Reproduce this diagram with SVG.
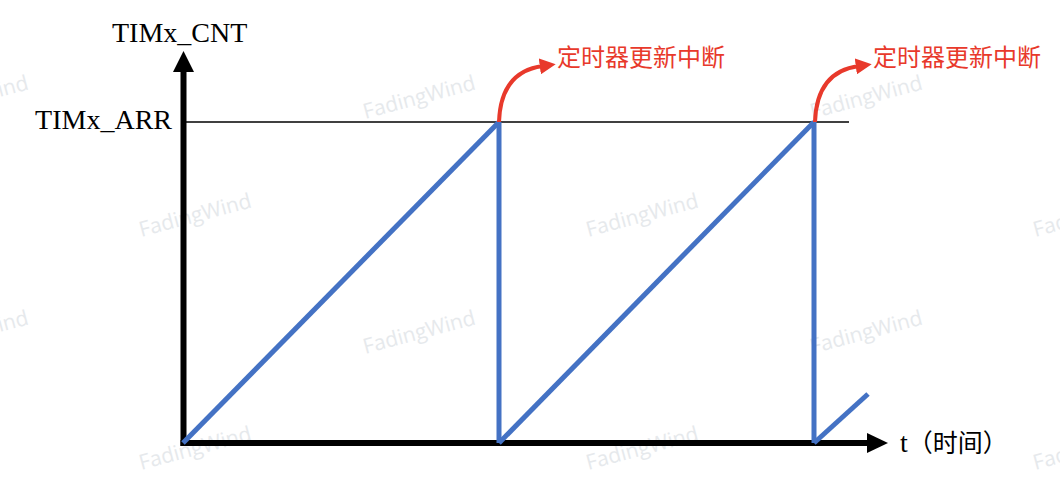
<svg xmlns="http://www.w3.org/2000/svg" width="1060" height="480" viewBox="0 0 1060 480">
  <style>
    .wm { font-family: "Open Sans", "Noto Sans", sans-serif; font-size: 21px; fill: #e6e9ec; text-anchor: middle; }
    .serif { font-family: "Liberation Serif", "Noto Sans CJK SC", serif; font-size: 28px; fill: #000; }
    .cjk { font-family: "Noto Sans CJK SC", "Liberation Sans", sans-serif; font-size: 24px; }
    .red { fill: #e8392b; }
    .axis { stroke: #000; stroke-width: 6; fill: none; }
    .saw { stroke: #4472c4; stroke-width: 5; fill: none; stroke-linecap: butt; }
    .irq { stroke: #e8392b; stroke-width: 4; fill: none; }
  </style>
  <defs>
    <marker id="redhead" viewBox="0 0 10 10" refX="2" refY="5" markerWidth="4" markerHeight="4" markerUnits="strokeWidth" orient="auto">
      <path d="M0,0 L10,5 L0,10 Z" fill="#e8392b"/>
    </marker>
  </defs>
  <rect width="1060" height="480" fill="#fff"/>

  <g id="watermark">
    <text class="wm" transform="translate(-26,104) rotate(-15)">FadingWind</text>
    <text class="wm" transform="translate(421,104) rotate(-15)">FadingWind</text>
    <text class="wm" transform="translate(868,104) rotate(-15)">FadingWind</text>
    <text class="wm" transform="translate(197,222) rotate(-15)">FadingWind</text>
    <text class="wm" transform="translate(644,222) rotate(-15)">FadingWind</text>
    <text class="wm" transform="translate(1091,222) rotate(-15)">FadingWind</text>
    <text class="wm" transform="translate(-26,339) rotate(-15)">FadingWind</text>
    <text class="wm" transform="translate(421,339) rotate(-15)">FadingWind</text>
    <text class="wm" transform="translate(868,339) rotate(-15)">FadingWind</text>
    <text class="wm" transform="translate(197,455) rotate(-15)">FadingWind</text>
    <text class="wm" transform="translate(644,455) rotate(-15)">FadingWind</text>
    <text class="wm" transform="translate(1091,455) rotate(-15)">FadingWind</text>
  </g>

  <g id="arr-line">
    <line x1="183" y1="122" x2="849" y2="122" stroke="#000" stroke-width="1.5"/>
  </g>

  <g id="y-axis">
    <line class="axis" x1="183.5" y1="446" x2="183.5" y2="70"/>
    <polygon points="183.5,51 173,72 194,72" fill="#000"/>
  </g>
  <g id="x-axis">
    <line class="axis" x1="180.5" y1="443" x2="869" y2="443"/>
    <polygon points="888,443 867,433 867,453" fill="#000"/>
  </g>

  <g id="connectors">
    <g id="counter">
      <line class="saw" x1="183" y1="443" x2="499" y2="122"/>
      <line class="saw" x1="499" y1="122" x2="499" y2="443"/>
      <line class="saw" x1="499" y1="443" x2="814" y2="122"/>
      <line class="saw" x1="814" y1="122" x2="814" y2="443"/>
      <line class="saw" x1="814" y1="443" x2="868" y2="394"/>
    </g>
    <path id="irq1" class="irq" d="M499,122 C500,92 512,70 543,66" marker-end="url(#redhead)"/>
    <path id="irq2" class="irq" d="M815,122 C816,92 828,70 859,66" marker-end="url(#redhead)"/>
  </g>

  <g id="labels">
    <text id="lbl-cnt" class="serif" x="112" y="42">TIMx_CNT</text>
    <text id="lbl-arr" class="serif" x="172" y="129" text-anchor="end">TIMx_ARR</text>
    <text id="lbl-t" class="serif" x="900" y="452">t<tspan font-family="Noto Sans CJK SC, sans-serif" font-size="25">（时间）</tspan></text>
    <text id="lbl-irq1" class="cjk red" x="557" y="66">定时器更新中断</text>
    <text id="lbl-irq2" class="cjk red" x="873" y="66">定时器更新中断</text>
  </g>
</svg>
